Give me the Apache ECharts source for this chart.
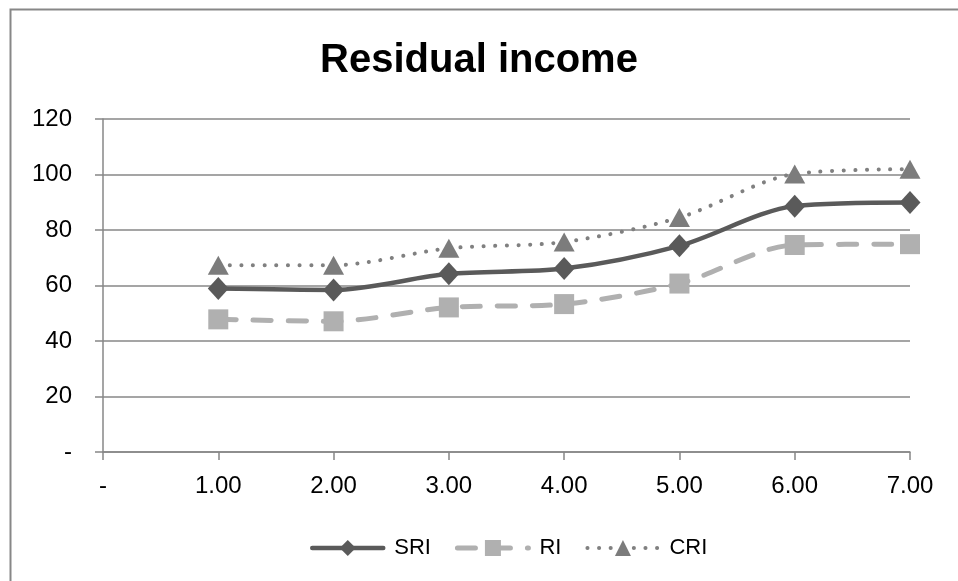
<!DOCTYPE html>
<html>
<head>
<meta charset="utf-8">
<script src="https://cdn.jsdelivr.net/npm/echarts@6/dist/echarts.min.js"></script>
<style>html,body{margin:0;padding:0;background:#fff}#c{width:958px;height:581px}</style>
</head>
<body>
<div id="c"></div>
<script>
const title = 'Residual income';
const periods = [1, 2, 3, 4, 5, 6, 7];
const sri = [58.9, 58.4, 64.2, 66.1, 74.3, 88.6, 89.9];
const ri  = [47.8, 47.1, 52.1, 53.3, 60.7, 74.6, 74.9];
const cri = [67.3, 67.3, 73.4, 75.7, 84.5, 100.2, 101.9];
const seriesNames = ['SRI', 'RI', 'CRI'];

const pairs = arr => periods.map((p, i) => [p, arr[i]]);
const FONT = '"Liberation Sans", Arial, sans-serif';
const AX = '#878787';

const styles = [
  {line: {color: '#5a5a5a', width: 4.5, type: 'solid', cap: 'round'}, item: {color: '#5a5a5a'}},
  {line: {color: '#b0b0b0', width: 5, type: [18, 17], cap: 'round'}, item: {color: '#b0b0b0'}},
  {line: {color: '#808080', width: 4, type: [0.1, 11.5], cap: 'round'}, item: {color: '#7c7c7c'}}
];

const chart = echarts.init(document.getElementById('c'), null, {renderer: 'canvas'});
chart.setOption({
  animation: false,
  backgroundColor: '#fff',
  graphic: [{
    type: 'rect', left: 8, top: 7, shape: {width: 960, height: 590},
    style: {fill: 'none', stroke: AX, lineWidth: 2}, z: -1
  }],
  title: {
    text: title, left: 'center', top: 36,
    textStyle: {fontFamily: FONT, fontSize: 40, fontWeight: 'bold', color: '#000'}
  },
  legend: {
    left: 305, top: 532, itemWidth: 71, itemHeight: 20, itemGap: 24,
    textStyle: {fontFamily: FONT, fontSize: 22, color: '#000', padding: [0, 0, 0, 6]},
    data: seriesNames.map((n, i) => ({name: n, lineStyle: styles[i].line, itemStyle: styles[i].item}))
  },
  grid: {left: 103, right: 48, top: 119, bottom: 129, containLabel: false},
  xAxis: {
    type: 'value', min: 0, max: 7, interval: 1,
    axisLine: {show: true, onZero: false, lineStyle: {color: AX, width: 1.5}},
    axisTick: {show: true, length: 8, lineStyle: {color: AX, width: 1.5}},
    splitLine: {show: false},
    axisLabel: {
      margin: 22, fontFamily: FONT, fontSize: 24, color: '#000',
      formatter: v => v === 0 ? '-' : v.toFixed(2)
    }
  },
  yAxis: {
    type: 'value', min: 0, max: 120, interval: 20,
    axisLine: {show: true, lineStyle: {color: AX, width: 1.5}},
    axisTick: {show: true, length: 8, lineStyle: {color: AX, width: 1.5}},
    splitLine: {show: true, lineStyle: {color: AX, width: 1.5}},
    axisLabel: {
      margin: 31, fontFamily: FONT, fontSize: 24, color: '#000',
      formatter: v => v === 0 ? '-' : String(v)
    }
  },
  series: [
    {
      name: seriesNames[0], type: 'line', data: pairs(sri), smooth: 0.3,
      symbol: 'diamond', symbolSize: [21, 23],
      lineStyle: styles[0].line, itemStyle: styles[0].item, z: 4
    },
    {
      name: seriesNames[1], type: 'line', data: pairs(ri), smooth: 0.3,
      symbol: 'rect', symbolSize: 20,
      lineStyle: styles[1].line, itemStyle: styles[1].item, z: 3
    },
    {
      name: seriesNames[2], type: 'line', data: pairs(cri), smooth: 0.3,
      symbol: 'triangle', symbolSize: [21, 19],
      lineStyle: styles[2].line, itemStyle: styles[2].item, z: 5
    }
  ]
});
</script>
</body>
</html>
